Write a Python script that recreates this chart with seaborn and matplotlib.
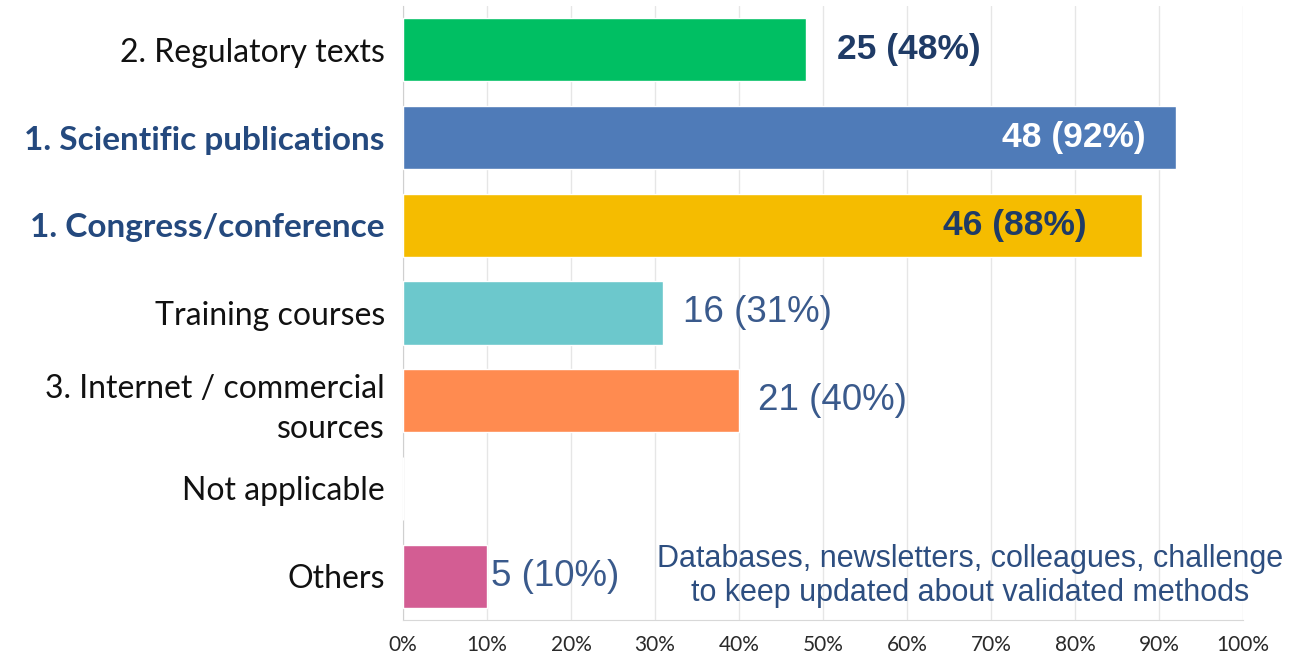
import matplotlib
matplotlib.use("Agg")
import matplotlib.pyplot as plt
import numpy as np
import pandas as pd
import seaborn as sns

# data
categories = ["2. Regulatory texts", "1. Scientific publications", "1. Congress/conference",
              "Training courses", "3. Internet / commercial\nsources", "Not applicable", "Others"]
counts = [25, 48, 46, 16, 21, 0, 5]
percents = [48, 92, 88, 31, 40, 0, 10]
bar_colors = ["#00bf63", "#4f7bb8", "#f5bc00", "#6cc8cc", "#ff8b50", "#cccccc", "#d35d93"]
highlight = [False, True, True, False, False, False, False]
x_ticks = [0, 10, 20, 30, 40, 50, 60, 70, 80, 90, 100]
note = "Databases, newsletters, colleagues, challenge\nto keep updated about validated methods"

df = pd.DataFrame({"cat": categories, "pct": percents, "n": counts})

sns.set_style("white")
plt.rcParams["font.family"] = ["Lato", "DejaVu Sans"]

fig = plt.figure(figsize=(12.94, 6.6), dpi=100)
ax = fig.add_axes([0.3114, 0.0606, 0.6492, 0.9304])

sns.barplot(data=df, y="cat", x="pct", hue="cat", palette=bar_colors, orient="h",
            width=0.72, legend=False, ax=ax, saturation=1, zorder=3)

ax.set_xlim(0, 100)
ax.set_ylim(len(categories) - 0.5, -0.5)
ax.set_xticks(x_ticks)
ax.set_xticklabels([f"{t}%" for t in x_ticks], fontsize=15, color="#2a2a2a")
ax.grid(axis="x", color="#e6e6e6", linewidth=1, zorder=0)
ax.grid(axis="y", visible=False)
ax.set_xlabel("")
ax.set_ylabel("")
ax.tick_params(axis="both", length=0)
ax.tick_params(axis="y", pad=13)
ax.tick_params(axis="x", pad=11)
for s in ["top", "right"]:
    ax.spines[s].set_visible(False)
ax.spines["left"].set_color("#d0d0d0")
ax.spines["bottom"].set_color("#d8d8d8")

for lab, hl in zip(ax.get_yticklabels(), highlight):
    lab.set_linespacing(1.45)
    if hl:
        lab.set_fontsize(24)
        lab.set_fontweight("bold")
        lab.set_color("#24497e")
    else:
        lab.set_fontsize(23)
        lab.set_color("#111111")

val_font = ["Liberation Sans", "DejaVu Sans"]
for i, (p, n) in enumerate(zip(percents, counts)):
    if n == 0:
        continue
    txt = f"{n} ({p}%)"
    if i == 0:
        ax.annotate(txt, (p, i), xytext=(22, 0), textcoords="offset points", va="center",
                    ha="left", fontsize=25.5, fontweight="bold", color="#1f3b66", family=val_font)
    elif i == 1:
        ax.annotate(txt, (p, i), xytext=(-22, 0), textcoords="offset points", va="center",
                    ha="right", fontsize=25.5, fontweight="bold", color="white", family=val_font)
    elif i == 2:
        ax.annotate(txt, (p, i), xytext=(-40, 0), textcoords="offset points", va="center",
                    ha="right", fontsize=25.5, fontweight="bold", color="#1f3b66", family=val_font)
    else:
        off = {3: 14, 4: 14, 6: 3}[i]
        ax.annotate(txt, (p, i), xytext=(off, 0), textcoords="offset points", va="center",
                    ha="left", fontsize=26.5, color="#3a5a8c", family=val_font)

ax.text(67.5, 6, note, ha="center", va="center", fontsize=22, color="#2d4e80",
        family=val_font, linespacing=1.2)

fig.savefig("out.png", dpi=100)
